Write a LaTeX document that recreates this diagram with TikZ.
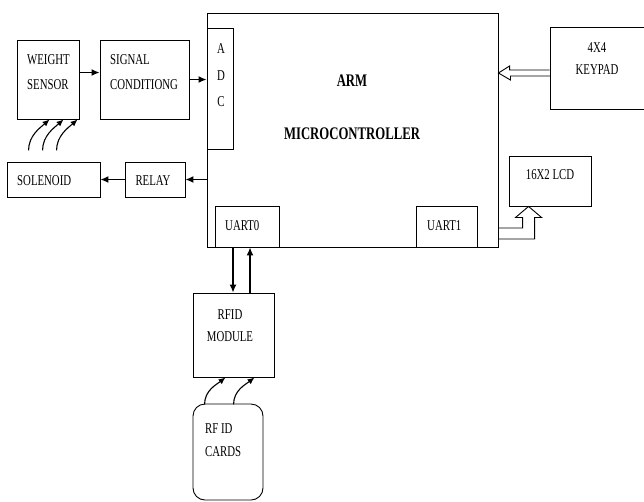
\documentclass[tikz,border=0pt]{standalone}
\usepackage{fontspec}
\setmainfont{Liberation Serif}[FakeStretch=0.72]
\usetikzlibrary{arrows.meta}
\usetikzlibrary{calc}
\tikzset{blk/.style={draw, line width=0.9pt, inner sep=0pt},
  lbl/.style={inner sep=0pt, align=left, font=\fontsize{15}{25}\selectfont},
  arr/.style={line width=1.3pt, -{Latex[length=8pt,width=7pt]}},
  carr/.style={line width=1.1pt, -{Latex[length=7pt,width=6pt]}},
  hollow/.style={line width=0.9pt, line join=miter}}

\begin{document}
\begin{tikzpicture}[x=1pt,y=-1pt]
\useasboundingbox (0,0) rectangle (644,501);
% blocks
\node[blk, minimum width=291pt, minimum height=234pt] (mcu) at (352.5,130) {};
\node[blk, minimum width=26pt, minimum height=121pt] (adc) at (220,88.5) {};
\node[blk, minimum width=64pt, minimum height=41pt] (uart0) at (247,226.5) {};
\node[blk, minimum width=61pt, minimum height=41pt] (uart1) at (446.5,226.5) {};
\node[blk, minimum width=62pt, minimum height=79pt] (weight) at (48,79.5) {};
\node[blk, minimum width=89pt, minimum height=79pt] (signal) at (144.5,79.5) {};
\node[blk, minimum width=93pt, minimum height=35pt] (solenoid) at (53.5,179.5) {};
\node[blk, minimum width=60pt, minimum height=35pt] (relay) at (155,179.5) {};
\node[blk, minimum width=98pt, minimum height=82pt] (keypad) at (599,68) {};
\node[blk, minimum width=82pt, minimum height=50pt] (lcd) at (550,181) {};
\node[blk, minimum width=81pt, minimum height=84pt] (rfid) at (233.5,335) {};
\node[blk, rounded corners=12pt, minimum width=70pt, minimum height=96pt] (cards) at (228,452) {};
% texts
\node[lbl, anchor=west] (weighttxt) at (27,72.5) {WEIGHT\\SENSOR};
\node[lbl, anchor=west] (signaltxt) at (110,72.5) {SIGNAL\\CONDITIONG};
\node[lbl, align=center, font=\fontsize{15}{26.5}\selectfont] (adctxt) at (221,75.5) {A\\D\\C};
\node[lbl, font=\fontsize{17.7}{20}\selectfont\bfseries] (armtxt) at (352,81) {ARM};
\node[lbl, font=\fontsize{17.7}{20}\selectfont\bfseries] (mcutxt) at (352,134) {MICROCONTROLLER};
\node[lbl, anchor=west] (uart0txt) at (225,226) {UART0};
\node[lbl, anchor=west] (uart1txt) at (427,226) {UART1};
\node[lbl, align=center, font=\fontsize{15}{22}\selectfont] (keypadtxt) at (597,59) {4X4\\KEYPAD};
\node[lbl] (lcdtxt) at (550,175) {16X2 LCD};
\node[lbl, anchor=west] (solenoidtxt) at (17,181) {SOLENOID};
\node[lbl] (relaytxt) at (153,181) {RELAY};
\node[lbl, align=center, font=\fontsize{15}{22}\selectfont] (rfidtxt) at (230,326) {RFID\\MODULE};
\node[lbl, anchor=west, font=\fontsize{15}{23}\selectfont] (cardstxt) at (205,440.5) {RF ID\\CARDS};
% arrows
\draw[arr] ([yshift=7pt]weight.east) -- ([yshift=7pt]signal.west);
\draw[arr] (signal.east) -- (adc.west |- signal.east);
\draw[arr] (mcu.west |- relay.east) -- (relay.east);
\draw[arr] (relay.west) -- (solenoid.east);
\draw[arr] ([xshift=-14pt]uart0.south) -- ([xshift=-14pt]uart0.south |- rfid.north);
\draw[arr] ([xshift=3pt]uart0.south |- rfid.north) -- ([xshift=3pt]uart0.south);
% keypad bus
\coordinate (kp) at ([yshift=-5pt]keypad.west);
\draw[hollow] (kp) ++(0,-3) -- ++(-40,0) -- ++(0,-4) -- (mcu.east |- kp)
  -- ++(12,7) -- ++(0,-4) -- ++(40,0);
% lcd bus
\coordinate (lcdin) at ([xshift=20pt]lcd.south west);
\draw[hollow] (mcu.east |- 0,228) -| ($(lcdin)+(-6,11)$) -- ++(-7,0) -- (lcdin)
  -- ++(13,11) -- ++(-7,0) |- (mcu.east |- 0,239);
% sensing arrows
\foreach \i in {0,1,2} {
  \coordinate (w\i) at ($(weight.south west)+(33+14*\i,0)$);
  \draw[carr] ($(w\i)+(-21,31)$) .. controls +(0,-15) and +(-9,8) .. (w\i);
}
\foreach \i in {0,1} {
  \coordinate (r\i) at ($(rfid.south west)+(33+29*\i,0)$);
  \draw[carr] ($(r\i)+(-21,27)$) .. controls +(0,-14) and +(-9,7) .. (r\i);
}
\end{tikzpicture}
\end{document}
